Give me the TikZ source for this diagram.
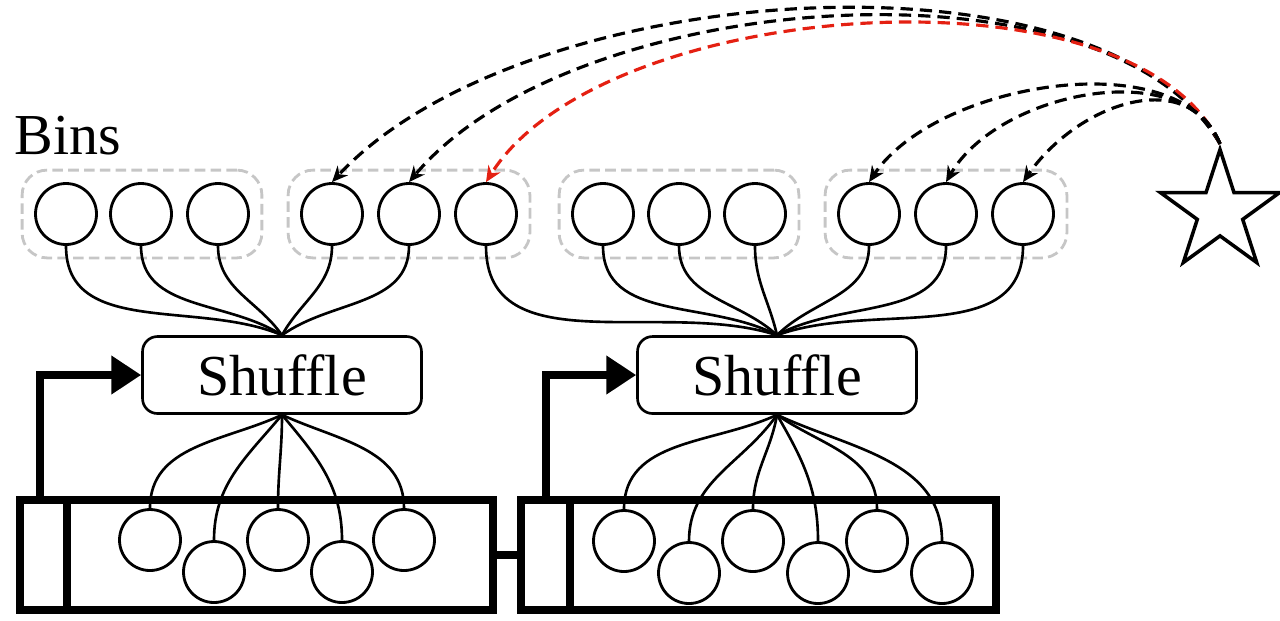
\documentclass[tikz,border=0pt]{standalone}
\usepackage{fontspec}
\setmainfont{Liberation Serif}
\usetikzlibrary{arrows.meta,shapes.geometric,fit}
\definecolor{hot}{RGB}{228,32,18}
\begin{document}
\begin{tikzpicture}[x=0.02cm,y=-0.02cm,
  bin/.style={circle,draw,line width=1.6pt,minimum size=1.22cm,inner sep=0pt},
  grp/.style={draw=gray!45,dash pattern=on 6pt off 3pt,line width=1.6pt,rounded corners=0.5cm,inner sep=0.24cm},
  shuf/.style={draw,line width=1.5pt,rounded corners=0.3cm,minimum width=5.58cm,minimum height=1.54cm,font=\fontsize{33}{40}\selectfont},
  queue/.style={draw,line width=4.5pt,minimum height=2.2cm,inner sep=0pt,outer sep=0pt},
  wall/.style={line width=4.5pt},
  feed/.style={line width=4.5pt,-{Triangle[length=17pt,width=21pt]}},
  link/.style={line width=1.5pt},
  jump/.style={line width=1.8pt,dash pattern=on 7pt off 4pt,-{Stealth[length=9pt,width=8pt]}},
  ]
\useasboundingbox (0,0) rectangle (1280,620);

\node[anchor=base west,inner sep=0pt,font=\fontsize{33}{40}\selectfont] (binlbl) at (14,154) {Bins};

% bins
\node[bin] (b1) at (66,214) {}; \node[bin] (b2) at (141,214) {}; \node[bin] (b3) at (218,214) {};
\node[bin] (b4) at (332,214) {}; \node[bin] (b5) at (409,214) {}; \node[bin] (b6) at (486,214) {};
\node[bin] (b7) at (603,214) {}; \node[bin] (b8) at (679,214) {}; \node[bin] (b9) at (755,214) {};
\node[bin] (b10) at (869,214) {}; \node[bin] (b11) at (946,214) {}; \node[bin] (b12) at (1023,214) {};
\node[grp,fit=(b1)(b3)] (g1) {}; \node[grp,fit=(b4)(b6)] (g2) {};
\node[grp,fit=(b7)(b9)] (g3) {}; \node[grp,fit=(b10)(b12)] (g4) {};

\node[star,star points=5,star point ratio=2.618,draw,line width=2pt,minimum size=2.5cm,inner sep=0pt] (item) at (1220,212) {};

\node[shuf] (sh1) at (282,375) {Shuffle};
\node[shuf] (sh2) at (777,375) {Shuffle};

% queues
\node[queue,minimum width=9.46cm] (q1) at (256.5,555) {};
\node[queue,minimum width=9.5cm] (q2) at (758.5,555) {};
\draw[wall] ([xshift=0.94cm]q1.north west) -- ([xshift=0.94cm]q1.south west);
\draw[wall] ([xshift=0.98cm]q2.north west) -- ([xshift=0.98cm]q2.south west);
\draw[wall] (q1.east) -- (q2.west);
\draw[feed] ([xshift=0.4cm]q1.north west) |- (sh1.west);
\draw[feed] ([xshift=0.5cm]q2.north west) |- (sh2.west);

\node[bin] (l1) at (150,540) {}; \node[bin] (l2) at (214,572) {}; \node[bin] (l3) at (278,540) {};
\node[bin] (l4) at (342,572) {}; \node[bin] (l5) at (404,540) {};
\node[bin] (r1) at (624,541) {}; \node[bin] (r2) at (689,573) {}; \node[bin] (r3) at (753,541) {};
\node[bin] (r4) at (818,573) {}; \node[bin] (r5) at (877,541) {}; \node[bin] (r6) at (942,573) {};

% bins to shuffle
\draw[link] (b1.south) to[out=-90,in=157] (sh1.north);
\draw[link] (b2.south) to[out=-90,in=147] (sh1.north);
\draw[link] (b3.south) to[out=-90,in=125] (sh1.north);
\draw[link] (b4.south) to[out=-90,in=61] (sh1.north);
\draw[link] (b5.south) to[out=-90,in=36] (sh1.north);
\draw[link] (b6.south) to[out=-90,in=162] (sh2.north);
\draw[link] (b7.south) to[out=-90,in=152] (sh2.north);
\draw[link] (b8.south) to[out=-90,in=137] (sh2.north);
\draw[link] (b9.south) to[out=-90,in=103] (sh2.north);
\draw[link] (b10.south) to[out=-90,in=45] (sh2.north);
\draw[link] (b11.south) to[out=-90,in=29] (sh2.north);
\draw[link] (b12.south) to[out=-90,in=20] (sh2.north);

% shuffle to queue items
\draw[link] (sh1.south) to[out=-155,in=90] (l1.north);
\draw[link] (sh1.south) to[out=-130,in=90] (l2.north);
\draw[link] (sh1.south) to[out=-90,in=90] (l3.north);
\draw[link] (sh1.south) to[out=-50,in=90] (l4.north);
\draw[link] (sh1.south) to[out=-25,in=90] (l5.north);
\draw[link] (sh2.south) to[out=-155,in=90] (r1.north);
\draw[link] (sh2.south) to[out=-125,in=90] (r2.north);
\draw[link] (sh2.south) to[out=-100,in=90] (r3.north);
\draw[link] (sh2.south) to[out=-60,in=90] (r4.north);
\draw[link] (sh2.south) to[out=-35,in=90] (r5.north);
\draw[link] (sh2.south) to[out=-25,in=90] (r6.north);

% new item
\draw[jump] (item.north) .. controls +(-118,-205) and +(191,-205) .. (b4.north);
\draw[jump] (item.north) .. controls +(-112,-195) and +(164,-195) .. (b5.north);
\draw[jump,draw=hot] (item.north) .. controls +(-86,-185) and +(116,-185) .. (b6.north);
\draw[jump] (item.north) .. controls +(-40,-101) and +(68,-101) .. (b10.north);
\draw[jump] (item.north) .. controls +(-36,-90) and +(52,-90) .. (b11.north);
\draw[jump] (item.north) .. controls +(-32,-79) and +(55,-79) .. (b12.north);
\end{tikzpicture}
\end{document}
